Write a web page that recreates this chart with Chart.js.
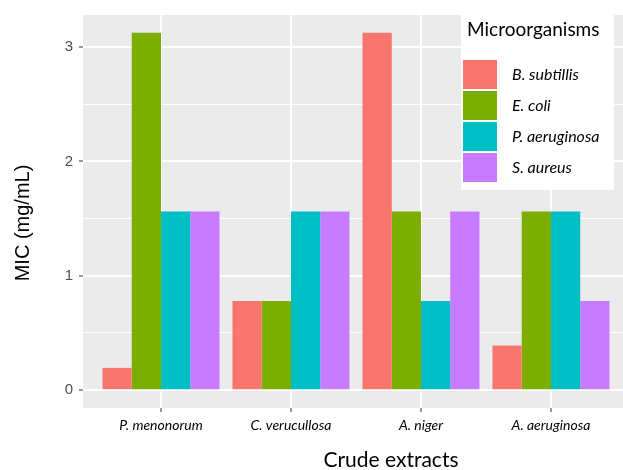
<!DOCTYPE html>
<html><head><meta charset="utf-8">
<script src="https://cdn.jsdelivr.net/npm/chart.js@4"></script>
<style>html,body{margin:0;padding:0;background:#fff;overflow:hidden}#wrap{width:623px;height:470px;position:relative}</style>
</head><body><div id="wrap"><canvas id="c" width="623" height="470"></canvas></div>
<script>
const categories = ["P. menonorum", "C. verucullosa", "A. niger", "A. aeruginosa"];
const seriesNames = ["B. subtillis", "E. coli", "P. aeruginosa", "S. aureus"];
const bSubtillis = [0.195, 0.78, 3.125, 0.39];
const eColi = [3.125, 0.78, 1.5625, 1.5625];
const pAeruginosa = [1.5625, 1.5625, 0.78, 1.5625];
const sAureus = [1.5625, 1.5625, 1.5625, 0.78];
const yTickValues = [0, 0.5, 1, 1.5, 2, 2.5, 3];
const xTitle = "Crude extracts";
const yTitle = "MIC (mg/mL)";
const legendTitle = "Microorganisms";

const seriesValues = [bSubtillis, eColi, pAeruginosa, sAureus];
const colors = ["#F8766D", "#7CAE00", "#00BFC4", "#C77CFF"];

const bgPlugin = {
  id: 'panelBg',
  beforeDraw(chart) {
    const {ctx, chartArea: a} = chart;
    ctx.save();
    ctx.fillStyle = '#EBEBEB';
    ctx.fillRect(a.left, a.top, a.right - a.left, a.bottom - a.top);
    ctx.restore();
  },
  afterDraw(chart) {
    const {ctx} = chart;
    ctx.save();
    ctx.fillStyle = '#000';
    ctx.font = '21px Lato';
    ctx.textAlign = 'center';
    ctx.textBaseline = 'middle';
    ctx.fillText(xTitle, 391, 460);
    ctx.save();
    ctx.translate(23, 223);
    ctx.rotate(-Math.PI / 2);
    ctx.font = '20px "Liberation Sans"';
    ctx.fillText(yTitle, 0, 0);
    ctx.restore();
    const lx = 461, ly = 13, lw = 153, lh = 177;
    ctx.fillStyle = '#FFFFFF';
    ctx.fillRect(lx, ly, lw, lh);
    ctx.fillStyle = '#000';
    ctx.textAlign = 'left';
    ctx.font = '19px Lato';
    ctx.fillText(legendTitle, 467, 30);
    ctx.font = 'italic 16px Lato';
    for (let i = 0; i < seriesNames.length; i++) {
      const ky = 60 + i * 31;
      ctx.fillStyle = colors[i];
      ctx.fillRect(463, ky, 34, 29);
      ctx.fillStyle = '#000';
      ctx.fillText(seriesNames[i], 512, ky + 15);
    }
    ctx.restore();
  }
};

new Chart(document.getElementById('c'), {
  type: 'bar',
  data: {
    datasets: seriesNames.map((n, s) => ({
      label: n,
      data: seriesValues[s].map((v, i) => ({x: i, y: v})),
      backgroundColor: colors[s],
      borderWidth: 0,
      categoryPercentage: 0.9,
      barPercentage: 1.0
    }))
  },
  options: {
    responsive: false,
    animation: false,
    layout: {padding: {top: 15, right: 0, left: 0, bottom: 0}},
    plugins: {legend: {display: false}, tooltip: {enabled: false}, title: {display: false}},
    scales: {
      x: {
        type: 'linear',
        min: -0.6,
        max: 3.554,
        offset: false,
        afterBuildTicks: s => { s.ticks = categories.map((c, i) => ({value: i})); },
        afterFit: s => { s.height = 62; },
        grid: {offset: false, color: '#FFFFFF', lineWidth: 2, tickColor: '#333333', tickLength: 4, tickWidth: 1, drawTicks: true},
        border: {display: false},
        ticks: {
          callback: v => categories[v] !== undefined ? categories[v] : '',
          color: '#000',
          font: {family: 'Lato', size: 14, style: 'italic'},
          padding: 5,
          maxRotation: 0,
          autoSkip: false
        }
      },
      y: {
        type: 'linear',
        min: -0.156,
        max: 3.28,
        afterBuildTicks: s => { s.ticks = yTickValues.map(v => ({value: v})); },
        afterFit: s => { s.width = 83; },
        grid: {
          color: '#FFFFFF',
          lineWidth: c => (c.tick && Number.isInteger(c.tick.value)) ? 2 : 1,
          tickColor: c => (c.tick && Number.isInteger(c.tick.value)) ? '#333333' : 'rgba(0,0,0,0)',
          tickLength: 4,
          tickWidth: 1,
          drawTicks: true
        },
        border: {display: false},
        ticks: {
          callback: v => Number.isInteger(v) ? String(v) : '',
          color: '#4D4D4D',
          font: {family: 'Liberation Sans', size: 15},
          padding: 6,
          autoSkip: false
        }
      }
    }
  },
  plugins: [bgPlugin]
});
</script></body></html>
